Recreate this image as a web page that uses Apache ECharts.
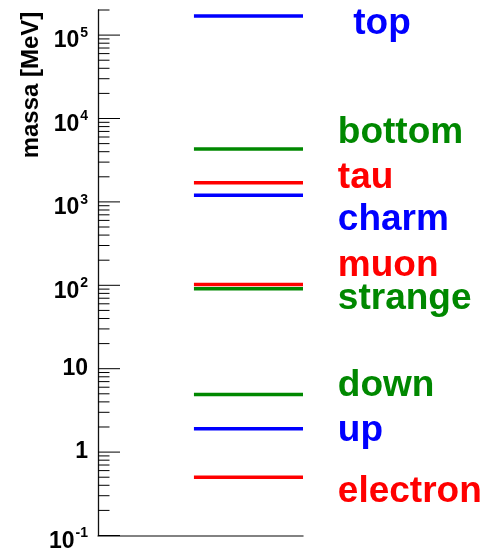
<!DOCTYPE html>
<html>
<head>
<meta charset="utf-8">
<script src="https://cdn.jsdelivr.net/npm/echarts@6/dist/echarts.min.js"></script>
<style>
  html, body { margin: 0; padding: 0; background: #fff; }
  #chart { width: 493px; height: 553px; }
</style>
</head>
<body>
<div id="chart"></div>
<script>
// Masses of the fundamental fermions (MeV), drawn as horizontal levels
const particles = ['top', 'bottom', 'tau', 'charm', 'muon', 'strange', 'down', 'up', 'electron'];
const masses = [170000, 4300, 1700, 1200, 102, 91, 4.9, 1.9, 0.5];
const families = ['blue', 'green', 'red', 'blue', 'red', 'green', 'green', 'blue', 'red'];

// Axis decades and minor-tick multipliers (log scale)
const decades = [-1, 0, 1, 2, 3, 4, 5];
const minorSteps = [2, 3, 4, 5, 6, 7, 8, 9];
const yMin = 0.1;
const yMax = 2e5;

// Style / layout
const palette = { blue: '#0000ff', green: '#008800', red: '#ff0000' };
const levelStart = 0.468;          // left end of each level, in x-axis units
const labelFont = 'Liberation Sans, Arial, Helvetica, sans-serif';
// Where each name sits (x in axis units, y in MeV)
const labelX = [1.245, 1.17, 1.17, 1.17, 1.17, 1.17, 1.17, 1.17, 1.17];
const labelAt = [1.38e5, 6690, 1940, 603, 170, 68.7, 6.19, 1.8, 0.331];

// Build tick list on the log axis
const ticks = [];
decades.forEach(function (d) {
  ticks.push([0, Math.pow(10, d), 1]);
  minorSteps.forEach(function (m) {
    const v = m * Math.pow(10, d);
    if (v <= yMax * 1.0000001) ticks.push([0, v, 0]);
  });
});

const levelData = masses.map(function (m, i) { return [1, m, i]; });
const labelData = particles.map(function (p, i) {
  return {
    value: [labelX[i], labelAt[i]],
    name: p,
    label: { color: palette[families[i]] }
  };
});

const chart = echarts.init(document.getElementById('chart'), null, { renderer: 'canvas' });

chart.setOption({
  animation: false,
  backgroundColor: '#ffffff',
  grid: { left: 98, right: 190, top: 10, bottom: 15.5, containLabel: false },
  xAxis: {
    type: 'value',
    min: 0,
    max: 1,
    axisLine: { show: true, onZero: false, lineStyle: { color: '#5a5a5a', width: 1.5 } },
    axisTick: { show: false },
    axisLabel: { show: false },
    splitLine: { show: false }
  },
  yAxis: {
    type: 'log',
    logBase: 10,
    min: yMin,
    max: yMax,
    axisLine: { show: true, lineStyle: { color: '#111', width: 1.3 } },
    axisTick: { show: false },
    splitLine: { show: false },
    axisLabel: {
      margin: 10,
      fontFamily: labelFont,
      fontWeight: 'bold',
      color: '#000',
      formatter: function (v) {
        const e = Math.round(Math.log10(v));
        if (Math.abs(v - Math.pow(10, e)) > 1e-6 * v) return '';
        if (e === 0) return '{p|1}';
        if (e === 1) return '{p|10}';
        return '{b|10}{s|' + e + '}';
      },
      rich: {
        p: { fontSize: 23, fontWeight: 'bold', fontFamily: labelFont, color: '#000', lineHeight: 23 },
        b: { fontSize: 23, fontWeight: 'bold', fontFamily: labelFont, color: '#000', lineHeight: 23, padding: [12, 0, 0, 0] },
        s: { fontSize: 14, fontWeight: 'bold', fontFamily: labelFont, color: '#000', lineHeight: 14, padding: [0, 0, 4, 1], verticalAlign: 'middle' }
      }
    }
  },
  graphic: [{
    type: 'text',
    x: 31,
    y: 85,
    rotation: Math.PI / 2,
    style: {
      text: 'massa [MeV]',
      fill: '#000',
      font: 'bold 24px ' + labelFont,
      align: 'center',
      verticalAlign: 'middle'
    }
  }],
  series: [
    {
      // log-axis ticks: long at each decade, short at 2..9
      type: 'custom',
      silent: true,
      clip: false,
      encode: { x: 0, y: 1 },
      data: ticks,
      renderItem: function (params, api) {
        const p = api.coord([0, api.value(1)]);
        const len = api.value(2) ? 22 : 11.5;
        return {
          type: 'line',
          shape: { x1: p[0], y1: p[1], x2: p[0] + len, y2: p[1] },
          style: { stroke: '#000', lineWidth: 1 }
        };
      }
    },
    {
      // one horizontal level per particle
      type: 'custom',
      silent: true,
      encode: { x: 0, y: 1 },
      data: levelData,
      renderItem: function (params, api) {
        const m = api.value(1);
        const a = api.coord([levelStart, m]);
        const b = api.coord([1, m]);
        const idx = api.value(2);
        return {
          type: 'line',
          shape: { x1: a[0], y1: a[1], x2: b[0], y2: b[1] },
          style: { stroke: palette[families[idx]], lineWidth: 3.5, lineCap: 'butt' }
        };
      }
    },
    {
      // particle names
      type: 'scatter',
      silent: true,
      clip: false,
      symbolSize: 0,
      itemStyle: { opacity: 1 },
      data: labelData,
      label: {
        show: true,
        position: 'right',
        distance: 0,
        align: 'left',
        verticalAlign: 'middle',
        fontFamily: labelFont,
        fontWeight: 'bold',
        fontSize: 37,
        opacity: 1,
        formatter: function (p) { return p.name; }
      }
    }
  ]
});
</script>
</body>
</html>
